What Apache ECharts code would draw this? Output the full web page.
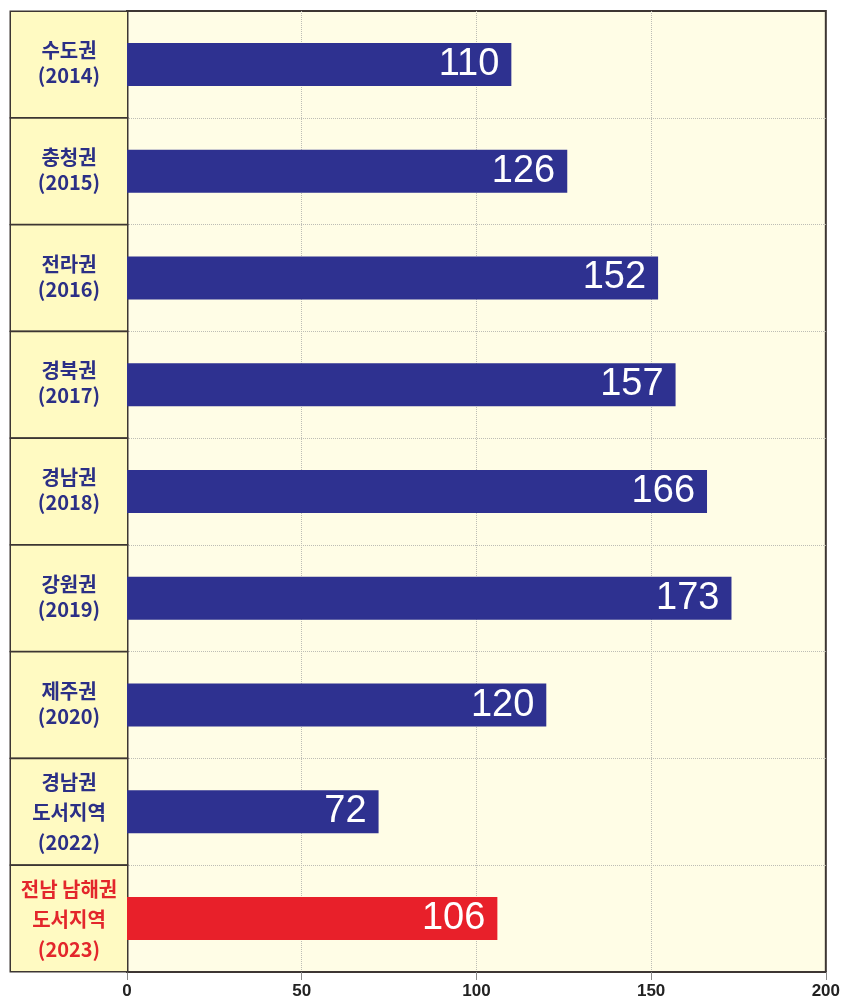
<!DOCTYPE html>
<html>
<head>
<meta charset="utf-8">
<script src="https://cdn.jsdelivr.net/npm/echarts@6/dist/echarts.min.js"></script>
<style>
    html, body { margin: 0; padding: 0; background: #fff; }
    #chart { width: 843px; height: 1003px; }
</style>
</head>
<body>
<div id="chart"></div>
<script>
// 권역 이름 / 연도 / 값
const regions = ['수도권', '충청권', '전라권', '경북권', '경남권', '강원권', '제주권', '경남권\n도서지역', '전남 남해권\n도서지역']
const years = ['2014', '2015', '2016', '2017', '2018', '2019', '2020', '2022', '2023']
const values = [110, 126, 152, 157, 166, 173, 120, 72, 106]
const xTicks = [0, 50, 100, 150, 200]

const highlightYear = '2023'
const categories = regions.map((r, i) => r + '\n(' + years[i] + ')')

const chart = echarts.init(document.getElementById('chart'))

const labelFont = {
    align: 'center',
    fontSize: 20,
    fontWeight: 'bold',
    fontFamily: '"Noto Sans CJK KR", sans-serif'
}

let option = {
    backgroundColor: '#ffffff',
    animation: false,
    grid: {
        left: 127,
        right: 17,
        top: 11,
        bottom: 31,
        show: true,
        backgroundColor: '#FFFDE6',
        borderColor: '#3d3633',
        borderWidth: 2
    },
    xAxis: {
        type: 'value',
        min: xTicks[0],
        max: xTicks[xTicks.length - 1],
        interval: 50,
        axisLine: { show: true, lineStyle: { color: '#3d3633', width: 2 } },
        axisTick: { show: true, length: 8, lineStyle: { color: '#888' } },
        axisLabel: {
            margin: 11,
            fontSize: 17,
            fontWeight: 'bold',
            fontFamily: '"Liberation Sans Narrow", "Liberation Sans", Arial',
            color: '#222'
        },
        splitLine: {
            show: true,
            showMinLine: false,
            showMaxLine: false,
            lineStyle: { color: '#bdbdb5', type: 'dotted', width: 1 }
        }
    },
    yAxis: {
        type: 'category',
        inverse: true,
        data: categories,
        axisLine: { show: true, lineStyle: { color: '#3d3633', width: 2 } },
        axisTick: { show: false },
        splitLine: {
            show: true,
            showMinLine: false,
            showMaxLine: false,
            lineStyle: { color: '#bdbdb5', type: 'dotted', width: 1 }
        },
        axisLabel: {
            interval: 0,
            margin: 0,
            width: 116,
            height: 105,
            padding: 0,
            backgroundColor: '#FFFAC2',
            borderColor: '#3d3633',
            borderWidth: 1.5,
            formatter: (value) => {
                let lines = value.split('\n')
                let style = value.indexOf(highlightYear) > -1 ? 'r' : 'b'
                if (lines.length > 2) style += '3'
                let spacer = lines.length > 2 ? '{sp3| }' : '{sp2| }'
                return spacer + '\n' + lines.map(s => '{' + style + '|' + s + '}').join('\n')
            },
            rich: {
                sp2: { fontSize: 1, lineHeight: 26 },
                sp3: { fontSize: 1, lineHeight: 8 },
                b: Object.assign({ color: '#2b2f86', lineHeight: 25 }, labelFont),
                b3: Object.assign({ color: '#2b2f86', lineHeight: 30 }, labelFont),
                r: Object.assign({ color: '#e3262b', lineHeight: 25 }, labelFont),
                r3: Object.assign({ color: '#e3262b', lineHeight: 30 }, labelFont)
            }
        }
    },
    series: [{
        type: 'bar',
        data: values,
        barWidth: 43,
        itemStyle: {
            color: (p) => categories[p.dataIndex].indexOf(highlightYear) > -1 ? '#e8202a' : '#2e3190'
        },
        label: {
            show: true,
            position: 'insideRight',
            distance: 12,
            color: '#ffffff',
            fontSize: 38,
            fontFamily: '"Liberation Sans", Arial, sans-serif',
            formatter: '{c}'
        }
    }]
}
chart.setOption(option)
</script>
</body>
</html>
